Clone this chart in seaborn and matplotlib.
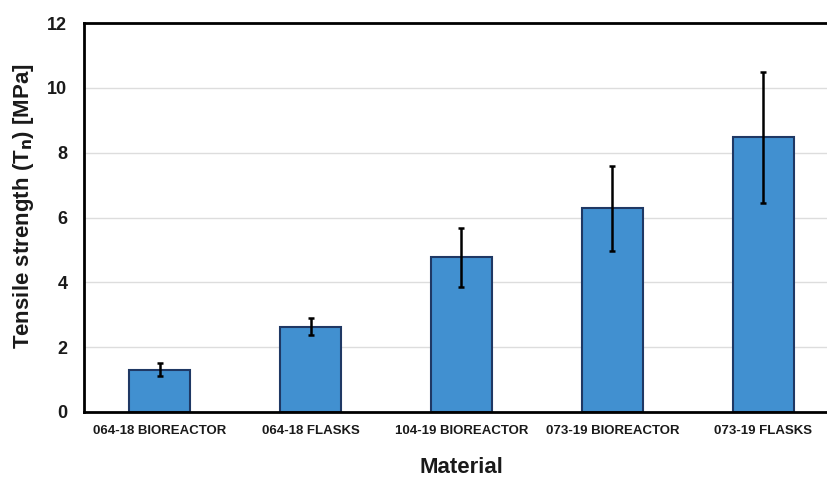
import pandas as pd
import matplotlib.pyplot as plt
import seaborn as sns

# Values
materials = ['064-18 BIOREACTOR', '064-18 FLASKS', '104-19 BIOREACTOR',
             '073-19 BIOREACTOR', '073-19 FLASKS']
tensile_mean = [1.30, 2.63, 4.77, 6.28, 8.47]
tensile_err = [0.20, 0.27, 0.90, 1.32, 2.02]
y_ticks = [0, 2, 4, 6, 8, 10, 12]

sns.set_theme(style='white')
plt.rcParams['font.family'] = ['Liberation Sans', 'DejaVu Sans']
plt.rcParams['text.color'] = '#1a1a1a'
plt.rcParams['axes.labelcolor'] = '#1a1a1a'
plt.rcParams['xtick.color'] = '#1a1a1a'
plt.rcParams['ytick.color'] = '#1a1a1a'

df = pd.DataFrame({'material': materials, 'tensile': tensile_mean, 'err': tensile_err})

fig = plt.figure(figsize=(8.28, 4.8), dpi=100)
ax = fig.add_axes([84 / 828, 1 - 412 / 480, (839 - 84) / 828, (412 - 23) / 480])

sns.barplot(data=df, x='material', y='tensile', order=materials, color='#4190D0',
            saturation=1, width=0.41, edgecolor='#1F3864', linewidth=1.5,
            errorbar=None, ax=ax, zorder=2)
ax.errorbar(range(len(materials)), df['tensile'], yerr=df['err'], fmt='none',
            ecolor='black', elinewidth=1.8, capsize=2.5, capthick=1.8, zorder=3)

ax.set_xlim(-0.5, len(materials) - 0.5)
ax.set_ylim(0, 12)
ax.set_yticks(y_ticks)
ax.set_yticklabels([str(t) for t in y_ticks], fontsize=13, fontweight='bold')
ax.set_xticks(range(len(materials)))
ax.set_xticklabels(materials, fontsize=9.5, fontweight='bold')
ax.tick_params(axis='y', length=0, pad=12)
ax.tick_params(axis='x', length=0, pad=9)
ax.yaxis.grid(True, color='#DDDDDD', linewidth=1, zorder=0)
ax.set_axisbelow(True)

for side in ['left', 'top', 'bottom']:
    ax.spines[side].set_color('black')
    ax.spines[side].set_linewidth(2)
ax.spines['right'].set_visible(False)

ax.set_xlabel('Material', fontsize=16, fontweight='bold', labelpad=15)
ax.set_ylabel('Tensile strength (T$_\\mathbf{n}$) [MPa]', fontsize=16,
              fontweight='bold')
ax.yaxis.set_label_coords(-0.064, 0.53)

fig.savefig('out.png', dpi=100)
